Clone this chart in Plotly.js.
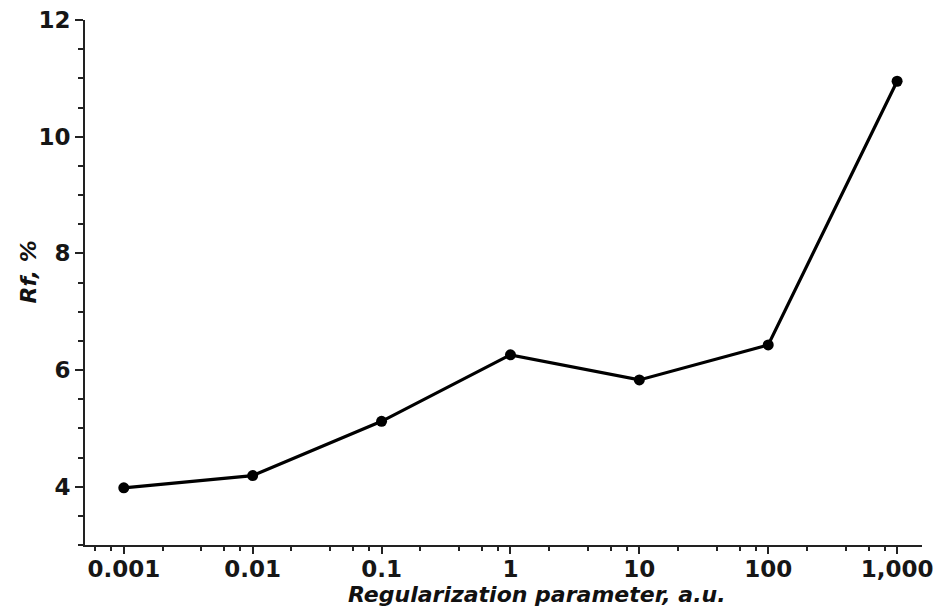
<!DOCTYPE html>
<html>
<head>
<meta charset="utf-8">
<script src="https://cdn.plot.ly/plotly-3.0.1.min.js"></script>
<style>html,body{margin:0;padding:0;background:#fff;}#chart{width:938px;height:610px;}</style>
</head>
<body>
<div id="chart"></div>
<script>
const regParam = [0.001, 0.01, 0.1, 1, 10, 100, 1000];
const rfPercent = [3.98, 4.19, 5.12, 6.26, 5.83, 6.43, 10.95];
const xTickVals = [0.001, 0.01, 0.1, 1, 10, 100, 1000];
const xTickText = ["0.001", "0.01", "0.1", "1", "10", "100", "1,000"];
const yTickVals = [4, 6, 8, 10, 12];
const xTitle = "Regularization parameter, a.u.";
const yTitle = "Rf, %";

const xMinor = [];
for (let e = -4; e <= 3; e++) {
  for (const m of [2, 4, 6, 8]) xMinor.push(m * Math.pow(10, e));
}

const axisFont = {family: "DejaVu Sans", size: 23, color: "#161616", weight: "bold"};
const titleFont = {family: "DejaVu Sans", size: 22, color: "#111", weight: "bold", style: "italic"};

Plotly.newPlot("chart", [{
  x: regParam, y: rfPercent, type: "scatter", mode: "lines+markers",
  line: {color: "#000", width: 3.2},
  marker: {color: "#000", size: 11},
  hoverinfo: "skip"
}], {
  width: 938, height: 610,
  margin: {l: 85, r: 16, t: 20, b: 65},
  paper_bgcolor: "#fff", plot_bgcolor: "#fff",
  showlegend: false,
  xaxis: {
    type: "log", range: [Math.log10(0.0005), Math.log10(1560)],
    tickmode: "array", tickvals: xTickVals, ticktext: xTickText,
    ticks: "outside", ticklen: 7, tickwidth: 2, tickcolor: "#222",
    ticklabelstandoff: -5,
    showline: true, linecolor: "#222", linewidth: 2,
    showgrid: false, zeroline: false,
    tickfont: axisFont,
    minor: {tickvals: xMinor, ticks: "outside", ticklen: 4, tickwidth: 2, tickcolor: "#222", showgrid: false}
  },
  yaxis: {
    range: [3, 12],
    tickmode: "array", tickvals: yTickVals,
    ticks: "outside", ticklen: 8, tickwidth: 2, tickcolor: "#222",
    showline: true, linecolor: "#222", linewidth: 2,
    showgrid: false, zeroline: false,
    tickfont: axisFont,
    minor: {dtick: 0.5, tick0: 0, ticks: "outside", ticklen: 5, tickwidth: 2, tickcolor: "#222", showgrid: false}
  },
  annotations: [
    {text: xTitle, font: titleFont, showarrow: false, xref: "paper", yref: "paper",
     x: 0.5, y: 0, xanchor: "center", yanchor: "middle", xshift: 33, yshift: -49},
    {text: yTitle, font: titleFont, showarrow: false, xref: "paper", yref: "paper", textangle: -90,
     x: 0, y: 0.519, xanchor: "center", yanchor: "middle", xshift: -56}
  ]
}, {displayModeBar: false, staticPlot: true});
</script>
</body>
</html>
